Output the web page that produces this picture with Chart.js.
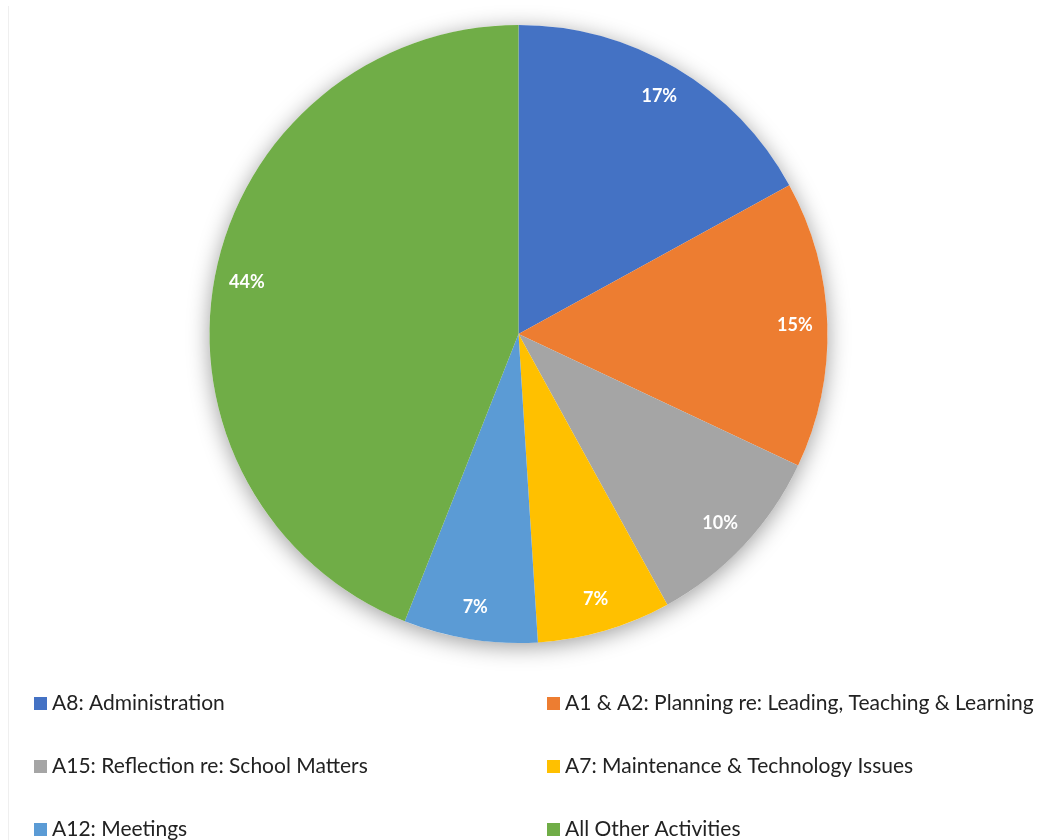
<!DOCTYPE html>
<html lang="en">
    <head>
        <meta charset="utf-8">
        <script src="https://cdn.jsdelivr.net/npm/chart.js@4"></script>
        <style>
            body { margin: 0; background: #fff; }
        </style>
    </head>
    <body>
        <canvas id="myChart" width="1051" height="840"></canvas>
        <script>
            const activities = [
                "A8: Administration",
                "A1 & A2: Planning re: Leading, Teaching & Learning",
                "A15: Reflection re: School Matters",
                "A7: Maintenance & Technology Issues",
                "A12: Meetings",
                "All Other Activities",
            ]
            const shares = [17, 15, 10, 7, 7, 44]
            const colours = ["#4472C4", "#ED7D31", "#A5A5A5", "#FFC000", "#5B9BD5", "#70AD47"]

            const fontFamily = "Lato, 'Open Sans', sans-serif"

            // soft shadow behind the whole pie, drawn once so slices don't shade each other
            const pieShadow = {
                id: "pieShadow",
                beforeDatasetsDraw(chart) {
                    const arc = chart.getDatasetMeta(0).data[0]
                    if (!arc) return
                    const ctx = chart.ctx
                    ctx.save()
                    ctx.shadowColor = "rgba(0,0,0,0.38)"
                    ctx.shadowBlur = 22
                    ctx.shadowOffsetY = 4
                    ctx.beginPath()
                    ctx.arc(arc.x, arc.y, arc.outerRadius, 0, Math.PI * 2)
                    ctx.fillStyle = "#fff"
                    ctx.fill()
                    ctx.restore()
                },
            }

            // percentage labels near the outer edge of each slice
            const sliceLabels = {
                id: "sliceLabels",
                afterDatasetsDraw(chart) {
                    const ctx = chart.ctx
                    const values = chart.data.datasets[0].data
                    const total = values.reduce((a, b) => a + b, 0)
                    ctx.save()
                    ctx.font = "bold 18px " + fontFamily
                    ctx.fillStyle = "#fff"
                    ctx.textAlign = "center"
                    ctx.textBaseline = "middle"
                    chart.getDatasetMeta(0).data.forEach((arc, i) => {
                        const p = arc.getProps(["x", "y", "startAngle", "endAngle", "outerRadius"])
                        const mid = (p.startAngle + p.endAngle) / 2
                        const r = p.outerRadius * 0.895
                        const text = Math.round((values[i] / total) * 100) + "%"
                        ctx.fillText(text, p.x + Math.cos(mid) * r, p.y + Math.sin(mid) * r)
                    })
                    ctx.restore()
                },
            }

            // two-column legend under the pie
            const twoColLegend = {
                id: "twoColLegend",
                afterDraw(chart) {
                    const ctx = chart.ctx
                    const cols = [34, 547]
                    const rows = [704, 767, 830]
                    ctx.save()
                    // faint frame edge on the left
                    ctx.strokeStyle = "#efefef"
                    ctx.lineWidth = 1
                    ctx.beginPath()
                    ctx.moveTo(8.5, 6)
                    ctx.lineTo(8.5, 840)
                    ctx.stroke()

                    ctx.font = "21px " + fontFamily
                    ctx.textBaseline = "middle"
                    chart.data.labels.forEach((label, i) => {
                        const x = cols[i % 2]
                        const y = rows[Math.floor(i / 2)]
                        ctx.fillStyle = chart.data.datasets[0].backgroundColor[i]
                        ctx.fillRect(x, y - 7, 13, 13)
                        ctx.fillStyle = "#222"
                        ctx.fillText(label, x + 18, y - 1)
                    })
                    ctx.restore()
                },
            }

            const ctx = document.getElementById("myChart")
            new Chart(ctx, {
                type: "pie",
                data: {
                    labels: activities,
                    datasets: [
                        {
                            data: shares,
                            backgroundColor: colours,
                            borderWidth: 0,
                        },
                    ],
                },
                options: {
                    responsive: false,
                    animation: false,
                    layout: {
                        padding: { top: 25, bottom: 197, left: 0, right: 14 },
                    },
                    plugins: {
                        legend: { display: false },
                        tooltip: { enabled: false },
                    },
                },
                plugins: [pieShadow, sliceLabels, twoColLegend],
            })
        </script>
    </body>
</html>
